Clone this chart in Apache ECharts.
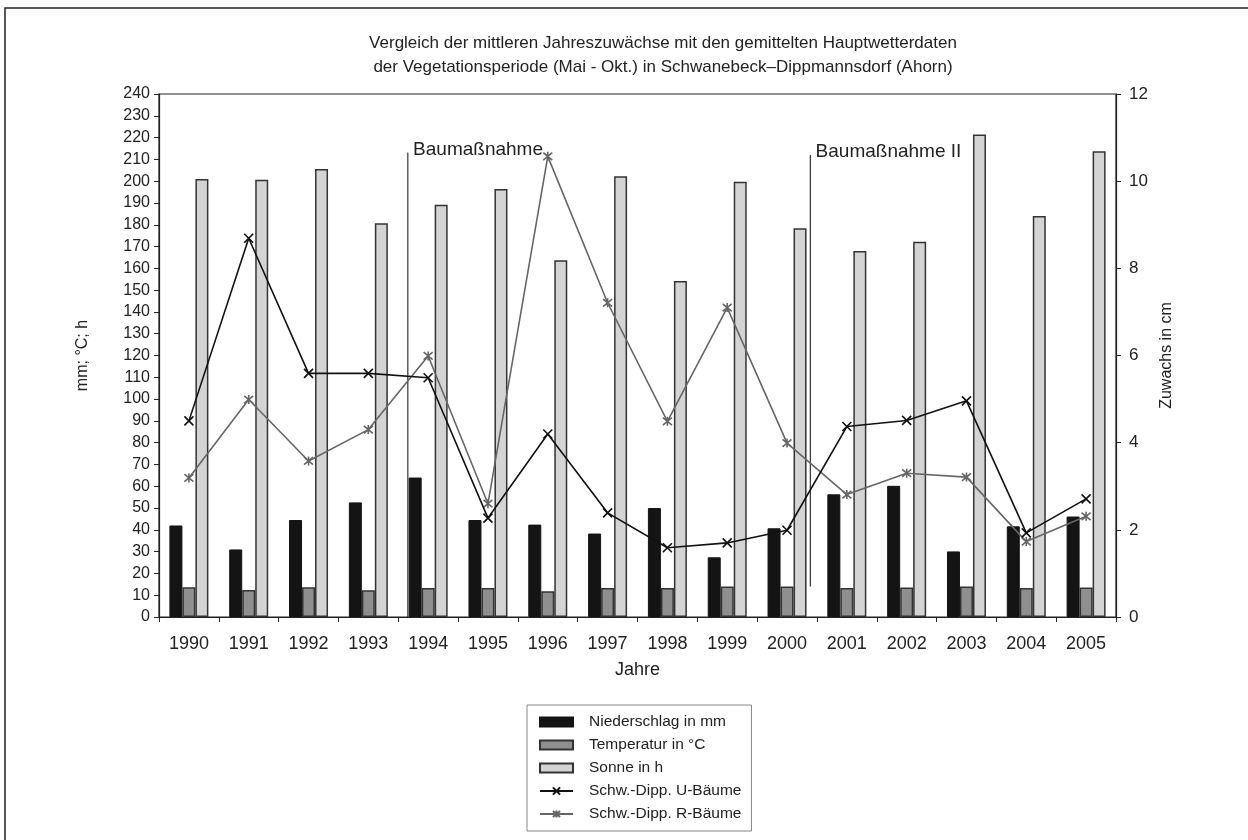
<!DOCTYPE html>
<html>
<head>
<meta charset="utf-8">
<script src="https://cdn.jsdelivr.net/npm/echarts@6/dist/echarts.min.js"></script>
<style>
  html, body { margin: 0; padding: 0; background: #fff; }
  #main { width: 1248px; height: 840px; }
</style>
</head>
<body>
<div id="main"></div>
<script>
var years = ['1990', '1991', '1992', '1993', '1994', '1995', '1996', '1997', '1998', '1999', '2000', '2001', '2002', '2003', '2004', '2005'];
var niederschlag = [42, 31, 44.5, 52.6, 64, 44.5, 42.4, 38.3, 50, 27.4, 40.7, 56.3, 60.2, 30.1, 41.6, 46.1];
var temperatur = [13.6, 12.4, 13.6, 12.3, 13.3, 13.3, 11.8, 13.3, 13.3, 14, 14, 13.3, 13.5, 14, 13.3, 13.5];
var sonne = [201, 200.6, 205.6, 180.7, 189.2, 196.4, 163.7, 202.2, 154.2, 199.7, 178.4, 168, 172.2, 221.4, 184, 213.7];
var uBaeume = [4.5, 8.69, 5.59, 5.59, 5.49, 2.27, 4.2, 2.39, 1.59, 1.7, 1.99, 4.37, 4.51, 4.96, 1.93, 2.71];
var rBaeume = [3.19, 4.99, 3.58, 4.3, 5.99, 2.6, 10.57, 7.21, 4.49, 7.1, 3.99, 2.81, 3.3, 3.21, 1.73, 2.31];

// Baumaßnahmen: Lage auf der Jahresachse (Kategorie-Index), Oberkante / Unterkante in mm-Achse
var massnahmeNamen = ['Baumaßnahme', 'Baumaßnahme II'];
var massnahmePos = [4.16, 10.89];
var massnahmeOben = [213, 212];
var massnahmeUnten = [0, 14];

var FONT = '"Liberation Sans", Arial, sans-serif';
var TXT = '#222';

var crossPath = 'path://M0,0L10,10M10,0L0,10';
var starPath = 'path://M0,0L10,10M10,0L0,10M5,-1L5,11';

var markSeries = [];
for (let i = 0; i < massnahmeNamen.length; i++) {
    markSeries.push({
        name: massnahmeNamen[i],
        type: 'line',
        xAxisIndex: 1,
        yAxisIndex: 0,
        symbol: 'none',
        silent: true,
        lineStyle: { color: '#333', width: 1.2 },
        data: [
            [massnahmePos[i], massnahmeUnten[i]],
            {
                value: [massnahmePos[i], massnahmeOben[i]],
                symbol: 'circle',
                symbolSize: 0.5,
                itemStyle: { color: '#333' },
                label: {
                    show: true,
                    position: 'right',
                    distance: 5,
                    offset: [0, -3],
                    formatter: massnahmeNamen[i],
                    fontFamily: FONT,
                    fontSize: 19,
                    color: TXT
                }
            }
        ],
        z: 1
    });
}

var chart = echarts.init(document.getElementById('main'));
var option = {
    backgroundColor: '#fff',
    animation: false,
    graphic: [{
        type: 'rect',
        shape: { x: 5, y: 8, width: 1300, height: 900 },
        style: { fill: 'none', stroke: '#222', lineWidth: 1.5 },
        silent: true
    }],
    title: {
        text: 'Vergleich der mittleren Jahreszuwächse mit den gemittelten Hauptwetterdaten\nder Vegetationsperiode (Mai - Okt.) in Schwanebeck\u2013Dippmannsdorf (Ahorn)',
        left: 658,
        top: 26,
        textAlign: 'center',
        textStyle: {
            fontFamily: FONT,
            fontSize: 17,
            fontWeight: 'normal',
            color: TXT,
            lineHeight: 24
        }
    },
    legend: {
        orient: 'vertical',
        left: 527,
        top: 705,
        padding: [9, 10, 9, 12],
        itemGap: 7,
        itemWidth: 33,
        itemHeight: 9,
        borderColor: '#888',
        borderWidth: 1,
        data: [
            { name: 'Niederschlag in mm', icon: 'rect' },
            { name: 'Temperatur in °C', icon: 'rect' },
            { name: 'Sonne in h', icon: 'rect' },
            'Schw.-Dipp. U-Bäume',
            'Schw.-Dipp. R-Bäume'
        ],
        textStyle: {
            fontFamily: FONT,
            fontSize: 15.5,
            color: TXT,
            padding: [0, 0, 0, 11]
        }
    },
    grid: {
        left: 159,
        right: 132,
        top: 94,
        bottom: 223,
        show: true,
        borderColor: '#222',
        borderWidth: 1.2,
        backgroundColor: 'transparent'
    },
    xAxis: [{
        type: 'category',
        data: years,
        name: 'Jahre',
        nameLocation: 'middle',
        nameGap: 44,
        nameTextStyle: { fontFamily: FONT, fontSize: 18, color: TXT },
        axisLine: { lineStyle: { color: '#222', width: 1.2 } },
        axisTick: { show: true, length: 5, lineStyle: { color: '#222' } },
        axisLabel: { margin: 18, fontFamily: FONT, fontSize: 18, color: TXT }
    }, {
        type: 'value',
        min: 0,
        max: years.length,
        show: false
    }],
    yAxis: [{
        type: 'value',
        min: 0,
        max: 240,
        interval: 10,
        name: 'mm; °C; h',
        nameLocation: 'middle',
        nameRotate: 90,
        nameGap: 68,
        nameTextStyle: { fontFamily: FONT, fontSize: 16, color: TXT },
        axisLine: { show: true, lineStyle: { color: '#222', width: 1.2 } },
        axisTick: { show: true, length: 5, lineStyle: { color: '#222' } },
        axisLabel: { margin: 9, fontFamily: FONT, fontSize: 16, color: TXT },
        splitLine: { show: false }
    }, {
        type: 'value',
        min: 0,
        max: 12,
        interval: 2,
        position: 'right',
        name: 'Zuwachs in cm',
        nameLocation: 'middle',
        nameRotate: 90,
        nameGap: 42,
        nameTextStyle: { fontFamily: FONT, fontSize: 16, color: TXT },
        axisLine: { show: true, lineStyle: { color: '#222', width: 1.2 } },
        axisTick: { show: true, length: 5, lineStyle: { color: '#222' } },
        axisLabel: { margin: 13, fontFamily: FONT, fontSize: 17, color: TXT },
        splitLine: { show: false }
    }],
    series: [{
        name: 'Niederschlag in mm',
        type: 'bar',
        yAxisIndex: 0,
        barWidth: 13,
        barGap: '0%',
        itemStyle: { color: '#141414', borderColor: '#141414', borderWidth: 1 },
        data: niederschlag
    }, {
        name: 'Temperatur in °C',
        type: 'bar',
        yAxisIndex: 0,
        barWidth: 13,
        barGap: '0%',
        itemStyle: { color: '#8f8f8f', borderColor: '#333', borderWidth: 1.5 },
        data: temperatur
    }, {
        name: 'Sonne in h',
        type: 'bar',
        yAxisIndex: 0,
        barWidth: 13,
        barGap: '0%',
        itemStyle: { color: '#d4d4d4', borderColor: '#333', borderWidth: 1.5 },
        data: sonne
    }, {
        name: 'Schw.-Dipp. U-Bäume',
        type: 'line',
        yAxisIndex: 1,
        symbol: crossPath,
        symbolSize: 9,
        lineStyle: { color: '#111', width: 1.6 },
        itemStyle: { color: '#111', borderColor: '#111', borderWidth: 1.6 },
        data: uBaeume,
        z: 5
    }, {
        name: 'Schw.-Dipp. R-Bäume',
        type: 'line',
        yAxisIndex: 1,
        symbol: starPath,
        symbolSize: 9,
        lineStyle: { color: '#666', width: 1.6 },
        itemStyle: { color: '#666', borderColor: '#666', borderWidth: 1.6 },
        data: rBaeume,
        z: 4
    }].concat(markSeries)
};
chart.setOption(option);
</script>
</body>
</html>
